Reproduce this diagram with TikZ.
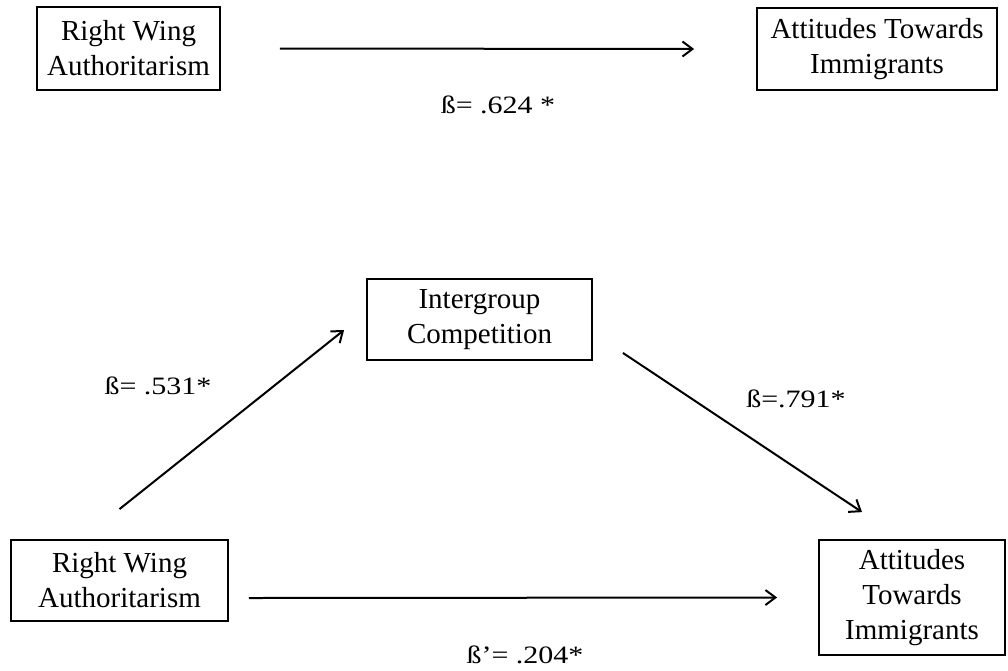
\documentclass[tikz,border=0pt]{standalone}
\usepackage{fontspec}
\setmainfont{Liberation Serif}
\newfontfamily\coeffont[FakeStretch=1.2]{Liberation Serif}
\usetikzlibrary{arrows.meta}

\begin{document}
\begin{tikzpicture}[x=1pt,y=-1pt,
    box/.style={draw,line width=1.8pt,align=center,inner sep=0pt,
      font=\fontsize{29}{35}\selectfont},
    path/.style={-{Straight Barb[length=10pt,width=15pt,line width=2pt]},line width=2pt},
    coef/.style={font=\coeffont\fontsize{25}{30}\selectfont}]
  \useasboundingbox (0,0) rectangle (1008,670);
  % total effect
  \node[box,minimum width=183pt,minimum height=83pt] (rwa) at (128.5,48.5) {Right Wing\\Authoritarism};
  \node[box,minimum width=240pt,minimum height=82pt] (ati) at (877,49) {Attitudes Towards\\Immigrants};
  \draw[path] ([xshift=59pt]rwa.east) -- ([xshift=-62pt]ati.west);
  \node[coef] (b1) at (498,105) {ß= .624 *};
  % mediation model
  \node[box,minimum width=217pt,minimum height=81pt] (rwa2) at (119.5,580.5) {Right Wing\\Authoritarism};
  \node[box,minimum width=225pt,minimum height=81pt] (ig) at (479.5,319.5) {Intergroup\\Competition};
  \node[box,minimum width=186pt,minimum height=115pt] (ati2) at (912,597.5) {Attitudes\\Towards\\Immigrants};
  \draw[path] ([yshift=30pt]rwa2.north) -- ([xshift=-22pt,yshift=-10.5pt]ig.west);
  \draw[path] ([xshift=30pt,yshift=8pt]ig.south east) -- ([xshift=-50pt,yshift=27pt]ati2.north);
  \draw[path] ([xshift=20pt,yshift=-17.5pt]rwa2.east) -- ([xshift=-41pt]ati2.west);
  \node[coef] (b2) at (158,386) {ß= .531*};
  \node[coef] (b3) at (796,399) {ß=.791*};
  \node[coef] (b4) at (525,655) {ß’= .204*};
\end{tikzpicture}
\end{document}
